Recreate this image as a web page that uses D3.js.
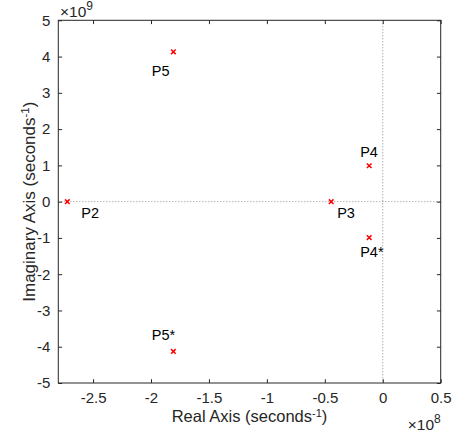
<!DOCTYPE html>
<html>
<head>
<meta charset="utf-8">
<script src="https://cdn.jsdelivr.net/npm/d3@7"></script>
<style>
  html, body { margin: 0; padding: 0; background: #fff; }
  svg { display: block; }
  text { font-family: "Liberation Sans", Arial, Helvetica, sans-serif; fill: #262626; }
</style>
</head>
<body>
<svg id="chart" width="458" height="439"></svg>
<script>
// Pole locations (seconds^-1)
const poleNames = ["P2", "P3", "P4", "P4*", "P5", "P5*"];
const poleReal  = [-2.722e8, -0.445e8, -0.117e8, -0.117e8, -1.807e8, -1.807e8];
const poleImag  = [0, 0, 0.99e9, -0.99e9, 4.13e9, -4.13e9];

// Axis ticks
const xTicks = [-2.5e8, -2e8, -1.5e8, -1e8, -0.5e8, 0, 0.5e8];
const yTicks = [-5e9, -4e9, -3e9, -2e9, -1e9, 0, 1e9, 2e9, 3e9, 4e9, 5e9];
const xDomain = [-2.8e8, 0.5e8];
const yDomain = [-5e9, 5e9];

// Label placement relative to each marker (pixels, left edge / vertical centre)
const labelOffsets = [[14, 11], [6, 11], [-9, -14], [-9, 14], [-21.5, 18.5], [-21.5, -17]];

const svg = d3.select("#chart");
const plot = { left: 58.3, right: 440.7, top: 20.3, bottom: 383 };
const ink = "#262626";
const tickLen = 3.8;
const fontStack = '"Liberation Sans", Arial, Helvetica, sans-serif';

const x = d3.scaleLinear().domain(xDomain).range([plot.left, plot.right]);
const y = d3.scaleLinear().domain(yDomain).range([plot.bottom, plot.top]);

const fmtX = v => String(+(v / 1e8).toFixed(1));
const fmtY = v => String(Math.round(v / 1e9));

// Dotted reference lines through the origin
const ref = svg.append("g").attr("stroke", "#8c8c8c").attr("stroke-width", 1)
  .attr("stroke-dasharray", "1,2").attr("fill", "none");
ref.append("line").attr("x1", plot.left).attr("x2", plot.right)
  .attr("y1", y(0)).attr("y2", y(0));
ref.append("line").attr("x1", x(0)).attr("x2", x(0))
  .attr("y1", plot.top).attr("y2", plot.bottom);

// Axes: inward ticks on all four sides (box on)
function styleAxis(g) {
  g.select(".domain").remove();
  g.selectAll(".tick line").attr("stroke", ink).attr("stroke-width", 1);
  g.selectAll(".tick text").attr("fill", ink)
    .style("font-size", "15px")
    .style("font-family", fontStack);
}

svg.append("g").attr("transform", `translate(0,${plot.bottom})`)
  .call(d3.axisBottom(x).tickValues(xTicks).tickFormat(fmtX)
    .tickSizeInner(-tickLen).tickSizeOuter(0).tickPadding(9.3))
  .call(styleAxis);
svg.append("g").attr("transform", `translate(0,${plot.top})`)
  .call(d3.axisTop(x).tickValues(xTicks).tickFormat("")
    .tickSizeInner(-tickLen).tickSizeOuter(0))
  .call(styleAxis);
svg.append("g").attr("transform", `translate(${plot.left},0)`)
  .call(d3.axisLeft(y).tickValues(yTicks).tickFormat(fmtY)
    .tickSizeInner(-tickLen).tickSizeOuter(0).tickPadding(8))
  .call(styleAxis);
svg.append("g").attr("transform", `translate(${plot.right},0)`)
  .call(d3.axisRight(y).tickValues(yTicks).tickFormat("")
    .tickSizeInner(-tickLen).tickSizeOuter(0))
  .call(styleAxis);

// Axes box
svg.append("rect")
  .attr("x", plot.left).attr("y", plot.top)
  .attr("width", plot.right - plot.left).attr("height", plot.bottom - plot.top)
  .attr("fill", "none").attr("stroke", ink).attr("stroke-width", 1);

// Exponent multipliers
const exp9 = svg.append("text").attr("x", 60).attr("y", 17).style("font-size", "15.5px");
exp9.append("tspan").text("\u00d710");
exp9.append("tspan").attr("dy", -7).style("font-size", "12px").text("9");

const exp8 = svg.append("text").attr("x", plot.right).attr("y", 430)
  .attr("text-anchor", "end").style("font-size", "15.5px");
exp8.append("tspan").text("\u00d710");
exp8.append("tspan").attr("dy", -7).style("font-size", "12px").text("8");

// Axis titles
const xt = svg.append("text").attr("x", (plot.left + plot.right) / 2).attr("y", 422)
  .attr("text-anchor", "middle").style("font-size", "16.5px");
xt.append("tspan").text("Real Axis (seconds");
xt.append("tspan").attr("dy", -5.5).style("font-size", "11px").text("-1");
xt.append("tspan").attr("dy", 5.5).text(")");

const yt = svg.append("text")
  .attr("transform", `translate(35,${(plot.top + plot.bottom) / 2}) rotate(-90)`)
  .attr("text-anchor", "middle").style("font-size", "17px");
yt.append("tspan").text("Imaginary Axis (seconds");
yt.append("tspan").attr("dy", -6).style("font-size", "11.5px").text("-1");
yt.append("tspan").attr("dy", 6).text(")");

// Pole markers (x)
const poles = poleNames.map((n, i) => ({ name: n, re: poleReal[i], im: poleImag[i], off: labelOffsets[i] }));
const s = 2.3;
const m = svg.append("g").attr("stroke", "#ff0000").attr("stroke-width", 1.5);
poles.forEach(p => {
  const cx = x(p.re), cy = y(p.im);
  m.append("path").attr("d",
    `M${cx - s},${cy - s}L${cx + s},${cy + s}M${cx - s},${cy + s}L${cx + s},${cy - s}`);
});

// Pole labels
svg.append("g").selectAll("text").data(poles).join("text")
  .attr("x", p => x(p.re) + p.off[0])
  .attr("y", p => y(p.im) + p.off[1] + 5.2)
  .style("font-size", "14.5px")
  .style("fill", "#000")
  .text(p => p.name);
</script>
</body>
</html>
